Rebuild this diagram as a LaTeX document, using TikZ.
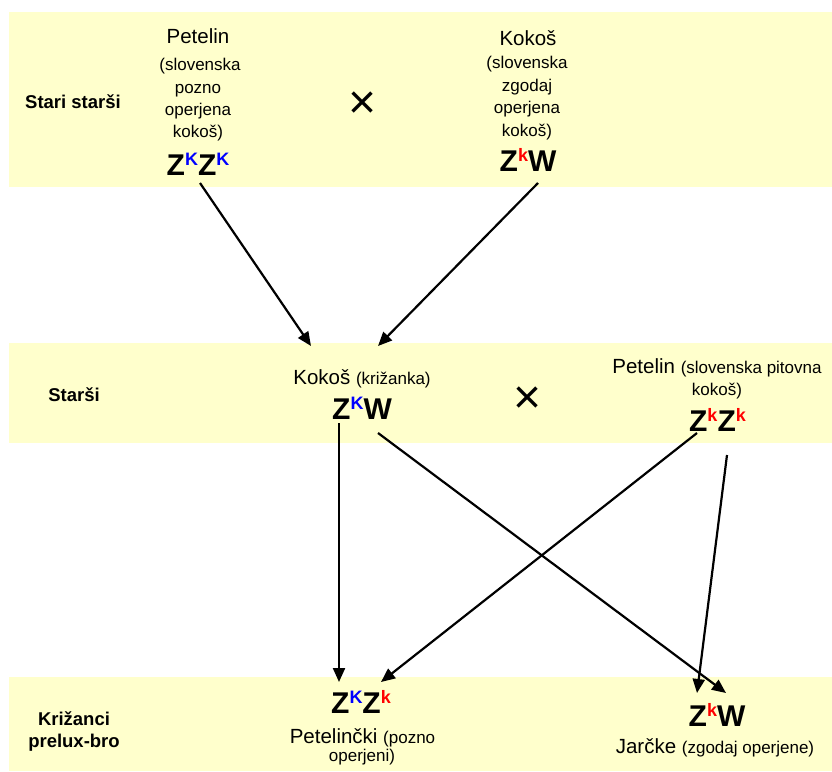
\documentclass[tikz,border=0pt]{standalone}
\usepackage{fontspec}
\setmainfont{Liberation Sans}
\usetikzlibrary{arrows.meta}
\definecolor{band}{HTML}{FFFFCC}
\definecolor{domK}{RGB}{0,0,255}
\definecolor{recK}{RGB}{255,0,0}
% allele written as a raised, coloured superscript of a sex chromosome
\newcommand\allele[2]{\raisebox{10pt}{\fontsize{18}{18}\selectfont\color{#1}#2}}
\newcommand\gtfont{\fontsize{30}{30}\selectfont\bfseries}
\newcommand\namefont{\fontsize{20.5}{24}\selectfont}
\newcommand\notefont{\fontsize{17}{20}\selectfont}
\newcommand\rowfont{\fontsize{18.5}{22}\selectfont\bfseries}
\newcommand\crossfont{\fontsize{48}{48}\selectfont}

\begin{document}
\begin{tikzpicture}[x=1pt,y=-1pt,
  txt/.style={inner sep=0pt, anchor=base},
  crosssign/.style={inner sep=0pt, anchor=center, font=\crossfont},
  arr/.style={line width=2.2pt, -{Triangle[length=14pt,width=12pt]}}]
\useasboundingbox (0,0) rectangle (832,771);

% generation bands
\fill[band] (9,12) rectangle (832,187);
\fill[band] (9,343) rectangle (832,443);
\fill[band] (9,677) rectangle (832,771);

% row titles
\node[txt, font=\rowfont] (r1) at (73,108) {Stari starši};
\node[txt, font=\rowfont] (r2) at (74,401) {Starši};
\node[txt, font=\rowfont] (r3a) at (74,725) {Križanci};
\node[txt, font=\rowfont] (r3b) at (74,747) {prelux-bro};

% grandparents: rooster
\node[txt, font=\namefont] (gp1) at (198,43) {Petelin};
\node[txt, font=\notefont] (gp1a) at (200,70) {(slovenska};
\node[txt, font=\notefont] (gp1b) at (198,93) {pozno};
\node[txt, font=\notefont] (gp1c) at (198,115) {operjena};
\node[txt, font=\notefont] (gp1d) at (198,137) {kokoš)};
\node[txt, font=\gtfont] (g1) at (198,175) {Z\allele{domK}{K}Z\allele{domK}{K}};

\node[crosssign] (x1) at (362.5,105.5) {×};

% grandparents: hen
\node[txt, font=\namefont] (gp2) at (528,45) {Kokoš};
\node[txt, font=\notefont] (gp2a) at (527,68) {(slovenska};
\node[txt, font=\notefont] (gp2b) at (527,91) {zgodaj};
\node[txt, font=\notefont] (gp2c) at (527,113) {operjena};
\node[txt, font=\notefont] (gp2d) at (527,136) {kokoš)};
\node[txt, font=\gtfont] (g2) at (528,171) {Z\allele{recK}{k}W};

% parents
\node[txt] (p1) at (362,384) {\namefont Kokoš \notefont(križanka)};
\node[txt, font=\gtfont] (g3) at (362,419) {Z\allele{domK}{K}W};

\node[crosssign] (x2) at (528,400) {×};

\node[txt] (p2) at (717,373) {\namefont Petelin \notefont(slovenska pitovna};
\node[txt, font=\notefont] (p2a) at (717,395) {kokoš)};
\node[txt, font=\gtfont] (g4) at (717.5,431) {Z\allele{recK}{k}Z\allele{recK}{k}};

% offspring
\node[txt, font=\gtfont] (g5) at (361,713) {Z\allele{domK}{K}Z\allele{recK}{k}};
\node[txt] (o1) at (362.5,743) {\namefont Petelinčki \notefont(pozno};
\node[txt, font=\notefont] (o1a) at (362,761) {operjeni)};

\node[txt, font=\gtfont] (g6) at (717,726) {Z\allele{recK}{k}W};
\node[txt] (o2) at (715,753) {\namefont Jarčke \notefont(zgodaj operjene)};

% connector end points
\coordinate (g1s) at (200,183);
\coordinate (g2s) at (538,183);
\coordinate (g3in1) at (311,346);
\coordinate (g3in2) at (378,346);
\coordinate (g3sz) at (339,423);
\coordinate (g3sw) at (378,433);
\coordinate (g4sa) at (697,433);
\coordinate (g4sb) at (727,455);
\coordinate (g5in1) at (339,682);
\coordinate (g5in2) at (381,682);
\coordinate (g6in1) at (697,693);
\coordinate (g6in2) at (726,693);

% inheritance of the sex chromosomes
\draw[arr] (g1s) -- (g3in1);
\draw[arr] (g2s) -- (g3in2);
\draw[arr] (g3sz) -- (g5in1);
\draw[arr] (g3sw) -- (g6in2);
\draw[arr] (g4sa) -- (g5in2);
\draw[arr] (g4sb) -- (g6in1);
\end{tikzpicture}
\end{document}
